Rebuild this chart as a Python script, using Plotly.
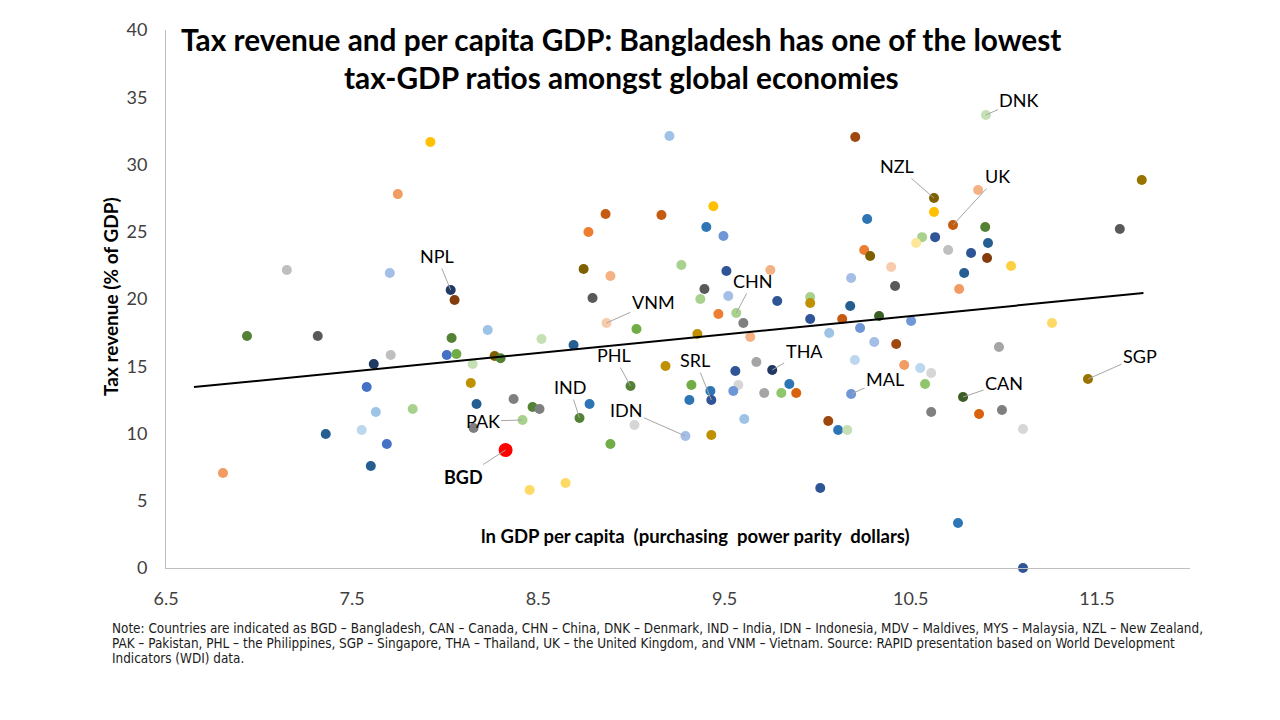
import plotly.graph_objects as go

# ---------------- data ----------------
ln_gdp = [
    6.806, 6.935, 7.315, 7.149, 7.702, 7.745, 7.920, 8.029, 8.050, 7.616,
    7.707, 7.578, 7.627, 7.551, 7.358, 7.600, 7.686, 7.825, 8.008, 8.060,
    8.034, 8.228, 8.147, 8.137, 8.168, 8.152, 8.265, 8.297, 8.517, 8.689,
    8.367, 8.469, 8.506, 8.415, 8.324, 8.453, 8.646, 8.721, 8.775, 8.995,
    8.887, 9.016, 8.861, 8.769, 8.743, 8.887, 8.791, 8.866, 9.027, 9.161,
    9.440, 9.402, 9.494, 9.268, 9.510, 9.746, 9.392, 9.370, 9.520, 9.563,
    9.467, 9.601, 9.354, 9.638, 9.783, 9.960, 9.960, 9.960, 10.062, 10.266,
    10.250, 10.282, 10.395, 10.180, 10.175, 10.132, 10.330, 10.228, 10.304, 10.422,
    10.416, 10.200, 9.756, 9.671, 9.558, 9.183, 9.322, 9.424, 9.429, 9.311,
    9.574, 9.547, 9.713, 9.805, 9.848, 9.885, 10.180, 9.606, 9.290, 9.429,
    10.057, 10.110, 10.159, 10.014, 9.204, 10.202, 10.625, 10.862, 10.625, 10.727,
    10.561, 10.529, 10.631, 10.701, 10.900, 10.915, 10.824, 10.910, 11.039, 10.787,
    10.760, 10.502, 10.465, 10.551, 10.610, 10.974, 11.259, 10.904, 11.741, 11.623,
    10.577, 10.781, 11.452, 10.610, 10.867, 10.990, 11.103, 10.754, 11.103,
]
tax_revenue = [
    7.06, 17.25, 17.25, 22.16, 21.93, 27.80, 31.67, 20.67, 19.93, 15.17,
    15.84, 13.46, 11.60, 10.26, 9.96, 7.58, 9.22, 11.82, 15.84, 15.91,
    17.10, 17.70, 15.17, 13.75, 12.19, 10.41, 15.76, 15.60, 17.03, 16.58,
    12.56, 11.97, 11.82, 11.00, 8.77, 5.80, 6.32, 11.15, 12.19, 13.53,
    9.22, 10.63, 26.32, 24.98, 22.23, 21.71, 20.07, 18.22, 17.77, 26.25,
    26.90, 25.35, 24.68, 22.53, 22.08, 22.16, 20.74, 20.00, 20.22, 18.96,
    18.88, 18.22, 17.40, 17.17, 19.85, 20.15, 19.70, 18.51, 17.47, 25.95,
    23.64, 23.20, 22.38, 21.56, 19.48, 18.51, 18.74, 17.84, 16.80, 16.65,
    20.97, 15.46, 14.72, 15.31, 14.65, 15.02, 13.60, 13.16, 12.49, 12.49,
    13.60, 13.16, 13.01, 13.01, 13.68, 13.01, 12.94, 11.08, 9.81, 9.89,
    10.93, 10.26, 10.26, 5.95, 32.12, 32.04, 27.51, 28.10, 26.47, 25.50,
    24.60, 24.16, 24.60, 23.64, 25.35, 24.16, 23.42, 23.05, 22.45, 21.93,
    20.74, 18.36, 15.09, 14.87, 14.50, 16.43, 18.22, 33.68, 28.85, 25.20,
    13.68, 12.71, 14.05, 11.60, 11.45, 11.75, 10.33, 3.35, 0.00,
]
country_label = [
    "", "", "", "", "", "", "", "NPL", "", "",
    "", "", "", "", "", "", "", "", "", "",
    "", "", "", "", "", "", "", "", "", "",
    "", "", "", "PAK", "BGD", "", "", "IND", "", "PHL",
    "", "", "", "", "", "", "", "VNM", "", "",
    "", "", "", "", "", "", "", "", "", "CHN",
    "", "", "", "", "", "", "", "", "", "",
    "", "", "", "", "", "", "", "", "", "",
    "", "", "THA", "", "", "", "", "", "SRL", "",
    "", "", "", "", "", "", "MAL", "", "IDN", "",
    "", "", "", "", "", "", "NZL", "", "", "UK",
    "", "", "", "", "", "", "", "", "", "",
    "", "", "", "", "", "", "", "DNK", "", "",
    "", "CAN", "SGP", "", "", "", "", "", "",
]
trend_x = [6.65, 11.75]
trend_y = [13.45, 20.45]

title_lines = ["Tax revenue and per capita GDP: Bangladesh has one of the lowest",
               "tax-GDP ratios amongst global economies"]
x_title = "ln GDP per capita  (purchasing  power parity  dollars)"
y_title = "Tax revenue (% of GDP)"
x_ticks = [6.5, 7.5, 8.5, 9.5, 10.5, 11.5]
y_ticks = [0, 5, 10, 15, 20, 25, 30, 35, 40]
note_lines = [
    "Note: Countries are indicated as BGD – Bangladesh, CAN – Canada, CHN – China, DNK – Denmark, IND – India, IDN – Indonesia, MDV – Maldives, MYS – Malaysia, NZL – New Zealand,",
    "PAK – Pakistan, PHL – the Philippines, SGP – Singapore, THA – Thailand, UK – the United Kingdom, and VNM – Vietnam. Source: RAPID presentation based on World Development",
    "Indicators (WDI) data.",
]

# ---------------- styles ----------------
PAL = {
    "dgreen": "#548235", "ddgreen": "#3B5E24", "green": "#70AD47", "lgreen": "#A9D18E",
    "llgreen": "#C5E0B4", "lgreen2": "#8FC66B", "dgray": "#595959", "gray": "#7F7F7F",
    "mgray": "#A5A5A5", "lgray": "#BFBFBF", "llgray": "#D6D6D6", "navy": "#203864",
    "dblue": "#2F5597", "steel": "#255E91", "blue": "#2E75B6", "mblue": "#4472C4",
    "pblue": "#6F96D6", "lblue": "#9DC3E6", "llblue": "#BDD7EE", "lpblue": "#A4BEE8",
    "orange": "#ED7D31", "dorange": "#C55A11", "dorange2": "#D9620F", "brown": "#843C0C",
    "brown2": "#9E480E", "lorange": "#F4B183", "llorange": "#F8CBAD", "morange": "#F19C63",
    "yellow": "#FFC000", "yellow2": "#FFD03F", "lyellow": "#FFD966", "llyellow": "#FFE699",
    "gold": "#BF9000", "olive": "#7F6000", "dgold": "#997300", "red": "#FF0000",
}
point_color_keys = [
    "morange", "dgreen", "dgray", "lgray", "lpblue", "morange", "yellow", "navy", "brown", "navy",
    "lgray", "mblue", "lblue", "llblue", "steel", "steel", "mblue", "lgreen", "mblue", "green",
    "dgreen", "lblue", "llgreen", "gold", "steel", "gray", "olive", "dgreen", "llgreen", "steel",
    "gray", "dgreen", "gray", "lgreen", "red", "lyellow", "lyellow", "dgreen", "blue", "dgreen",
    "green", "llgray", "dorange", "orange", "olive", "lorange", "dgray", "llorange", "green", "dorange",
    "yellow", "blue", "pblue", "lgreen", "dblue", "lorange", "dgray", "lgreen", "lpblue", "lgreen",
    "orange", "gray", "gold", "lorange", "dblue", "lgreen", "gold", "dblue", "lblue", "blue",
    "orange", "olive", "llorange", "lpblue", "steel", "dorange", "ddgreen", "pblue", "lpblue", "brown2",
    "dgray", "llblue", "navy", "mgray", "dblue", "gold", "green", "blue", "dblue", "blue",
    "llgray", "pblue", "mgray", "lgreen2", "blue", "dorange2", "pblue", "lblue", "lpblue", "gold",
    "brown2", "blue", "llgreen", "dblue", "lblue", "brown2", "olive", "lorange", "yellow", "dorange",
    "lgreen", "llyellow", "dblue", "lgray", "dgreen", "steel", "dblue", "brown", "yellow2", "steel",
    "morange", "pblue", "morange", "llblue", "llgray", "mgray", "lyellow", "llgreen", "dgold", "dgray",
    "lgreen2", "ddgreen", "dgold", "gray", "dorange2", "gray", "llgray", "blue", "dblue",
]
point_colors = [PAL[k] for k in point_color_keys]
point_sizes = [14 if c == "BGD" else 10 for c in country_label]

# label offsets in pixels (text centre relative to point)
LABEL_OFFSETS = {
    "DNK": (33, -15), "NZL": (-37, -32), "UK": (45, -49), "NPL": (-14, -34),
    "VNM": (47, -21), "CHN": (17, -32), "PHL": (-17, -31), "SRL": (-16, -40),
    "THA": (32, -19), "MAL": (34, -15), "IDN": (-59, -26), "IND": (-10, -31),
    "PAK": (-40, 1), "BGD": (-42, 27), "CAN": (41, -14), "SGP": (52, -23),
}

FONT = "Lato, Carlito, Calibri, sans-serif"
L, R, T, B = 166, 90, 30, 152
W, H = 1280, 720
PW, PH = W - L - R, H - T - B


def px_x(px):
    return (px - L) / PW


def px_y(py):
    return (H - B - py) / PH


fig = go.Figure()
fig.add_trace(go.Scatter(
    x=ln_gdp, y=tax_revenue, mode="markers",
    marker=dict(color=point_colors, size=point_sizes, opacity=1, line=dict(width=0)),
    cliponaxis=False, hoverinfo="x+y", showlegend=False,
))
fig.add_trace(go.Scatter(
    x=trend_x, y=trend_y, mode="lines",
    line=dict(color="#000000", width=2), showlegend=False, hoverinfo="skip",
))

annotations = []
for xv, yv, code in zip(ln_gdp, tax_revenue, country_label):
    if not code:
        continue
    ax, ay = LABEL_OFFSETS[code]
    annotations.append(dict(
        x=xv, y=yv, xref="x", yref="y", ax=ax, ay=ay,
        text=f"<b>{code}</b>" if code == "BGD" else code,
        showarrow=True, arrowhead=0, arrowwidth=1, arrowcolor="#A6A6A6",
        standoff=0, startstandoff=0,
        font=dict(family=FONT, size=18, color="#000000"),
    ))

# title lines
for txt, py in zip(title_lines, [40, 78]):
    annotations.append(dict(
        x=px_x(621), y=px_y(py), xref="paper", yref="paper", showarrow=False,
        xanchor="center", yanchor="middle", text=f"<b>{txt}</b>",
        font=dict(family=FONT, size=29.8, color="#000000"),
    ))
# axis titles
annotations.append(dict(
    x=px_x(695), y=px_y(536), xref="paper", yref="paper", showarrow=False,
    xanchor="center", yanchor="middle", text=f"<b>{x_title}</b>",
    font=dict(family=FONT, size=18.5, color="#000000"),
))
annotations.append(dict(
    x=px_x(110), y=px_y(297), xref="paper", yref="paper", showarrow=False,
    xanchor="center", yanchor="middle", textangle=-90, text=f"<b>{y_title}</b>",
    font=dict(family=FONT, size=19, color="#000000"),
))
# note
for txt, py in zip(note_lines, [628, 643, 658]):
    annotations.append(dict(
        x=px_x(110), y=px_y(py), xref="paper", yref="paper", showarrow=False,
        xanchor="left", yanchor="middle", text=txt,
        font=dict(family="Liberation Sans Narrow, DejaVu Sans Condensed, Roboto Condensed, Roboto, sans-serif",
                  size=13.4, color="#1A1A1A"),
    ))

fig.update_layout(
    width=W, height=H, margin=dict(l=L, r=R, t=T, b=B),
    paper_bgcolor="#FFFFFF", plot_bgcolor="#FFFFFF",
    annotations=annotations, showlegend=False,
    xaxis=dict(range=[6.5, 12.0], tickvals=x_ticks, ticktext=[str(v) for v in x_ticks],
               showgrid=False, zeroline=False, showline=True, linecolor="#BFBFBF", linewidth=1,
               ticks="outside", ticklen=14, tickcolor="rgba(0,0,0,0)",
               tickfont=dict(family=FONT, size=18, color="#404040")),
    yaxis=dict(range=[0, 40], tickvals=y_ticks, ticktext=[str(v) for v in y_ticks],
               showgrid=False, zeroline=False, showline=True, linecolor="#BFBFBF", linewidth=1,
               ticks="outside", ticklen=14, tickcolor="rgba(0,0,0,0)",
               tickfont=dict(family=FONT, size=18, color="#404040")),
)

fig.write_html("out.html")
